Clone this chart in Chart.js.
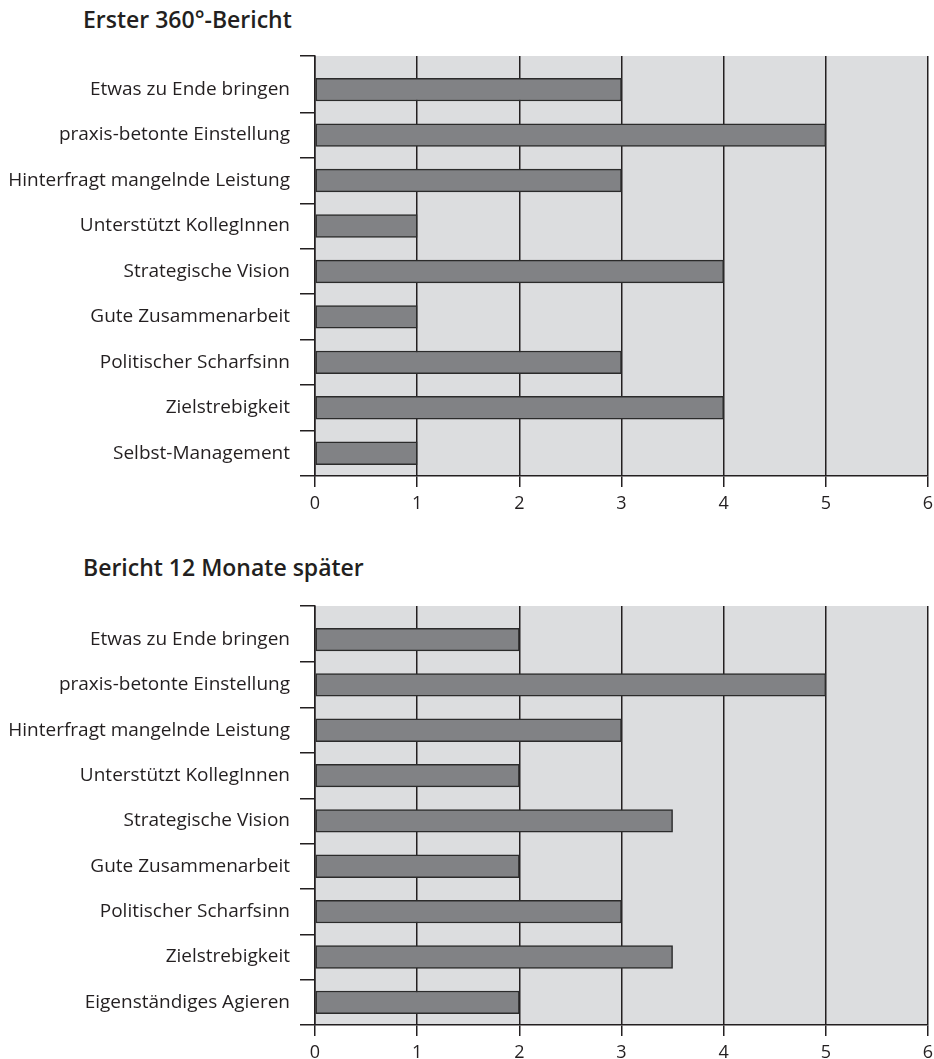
<!DOCTYPE html>
<html>
<head>
<meta charset="utf-8">
<script src="https://cdn.jsdelivr.net/npm/chart.js@4/dist/chart.umd.min.js"></script>
<style>
  html, body { margin: 0; padding: 0; background: #fff; }
  body { width: 934px; height: 1059px; position: relative; overflow: hidden; font-family: "Open Sans", sans-serif; }
  .title { position: absolute; left: 83px; margin: 0; font-size: 23px; font-weight: 600; color: #231f20; line-height: 1; }
  .box { position: absolute; left: 0; width: 934px; }
</style>
</head>
<body>
<h2 class="title" style="top:8px">Erster 360°-Bericht</h2>
<div class="box" style="top:40px;height:490px"><canvas id="c1"></canvas></div>
<h2 class="title" style="top:556px">Bericht 12 Monate später</h2>
<div class="box" style="top:590px;height:469px"><canvas id="c2"></canvas></div>
<script>
const categories1 = ["Etwas zu Ende bringen","praxis-betonte Einstellung","Hinterfragt mangelnde Leistung","Unterstützt KollegInnen","Strategische Vision","Gute Zusammenarbeit","Politischer Scharfsinn","Zielstrebigkeit","Selbst-Management"];
const values1 = [3, 5, 3, 1, 4, 1, 3, 4, 1];
const categories2 = ["Etwas zu Ende bringen","praxis-betonte Einstellung","Hinterfragt mangelnde Leistung","Unterstützt KollegInnen","Strategische Vision","Gute Zusammenarbeit","Politischer Scharfsinn","Zielstrebigkeit","Eigenständiges Agieren"];
const values2 = [2, 5, 3, 2, 3.5, 2, 3, 3.5, 2];
const xTicks = [0, 1, 2, 3, 4, 5, 6];
const yTop = -0.74; // the plot area extends a little above the first category

const plotBg = {
  id: 'plotBg',
  beforeDraw(chart) {
    const {ctx, chartArea: a} = chart;
    ctx.save();
    ctx.fillStyle = '#dcdddf';
    ctx.fillRect(a.left, a.top, a.right - a.left, a.bottom - a.top);
    ctx.restore();
  }
};

function make(id, cats, vals, xHeight) {
  const n = cats.length;
  const yTickVals = [yTop];
  for (let i = 0; i < n; i++) { yTickVals.push(i, i + 0.5); }
  return new Chart(document.getElementById(id), {
    type: 'bar',
    data: {
      datasets: [{
        data: vals.map((v, i) => ({ x: v, y: i })),
        backgroundColor: '#818285',
        borderColor: '#2b2b2b',
        borderWidth: 1.5,
        borderSkipped: false,
        categoryPercentage: 1,
        barPercentage: 1 // ticks every 0.5 category -> bar = half a category
      }]
    },
    plugins: [plotBg],
    options: {
      indexAxis: 'y',
      responsive: true,
      maintainAspectRatio: false,
      animation: false,
      layout: { padding: { top: 16, right: 6, left: 0, bottom: 0 } },
      plugins: { legend: { display: false }, tooltip: { enabled: false } },
      scales: {
        x: {
          type: 'linear',
          min: 0, max: 6,
          offset: false,
          afterBuildTicks(s) { s.ticks = xTicks.map(v => ({ value: v })); },
          afterFit(s) { s.height = xHeight; s.paddingLeft = 0; s.paddingRight = 0; },
          grid: { offset: false, color: '#231f20', lineWidth: 1.5, drawOnChartArea: true, drawTicks: true, tickLength: 11 },
          border: { display: true, color: '#231f20', width: 1.5 },
          ticks: { color: '#231f20', font: { family: 'Open Sans', size: 18 }, padding: 6, autoSkip: false, maxRotation: 0 }
        },
        y: {
          type: 'linear',
          reverse: true,
          offset: false,
          min: yTop, max: n - 0.5,
          afterBuildTicks(s) { s.ticks = yTickVals.map(v => ({ value: v })); },
          afterFit(s) { s.width = 315; s.paddingTop = 0; s.paddingBottom = 0; },
          grid: {
            offset: false,
            drawOnChartArea: false, lineWidth: 1.5, tickLength: 15,
            tickColor: c => (c.tick && Number.isInteger(c.tick.value)) ? 'rgba(0,0,0,0)' : '#231f20'
          },
          border: { display: true, color: '#231f20', width: 1.5 },
          ticks: {
            color: '#231f20', font: { family: 'Open Sans', size: 19 }, padding: 10, autoSkip: false,
            callback: v => Number.isInteger(v) ? cats[v] : ''
          }
        }
      }
    }
  });
}
make('c1', categories1, values1, 54);
make('c2', categories2, values2, 34);
</script>
</body>
</html>
